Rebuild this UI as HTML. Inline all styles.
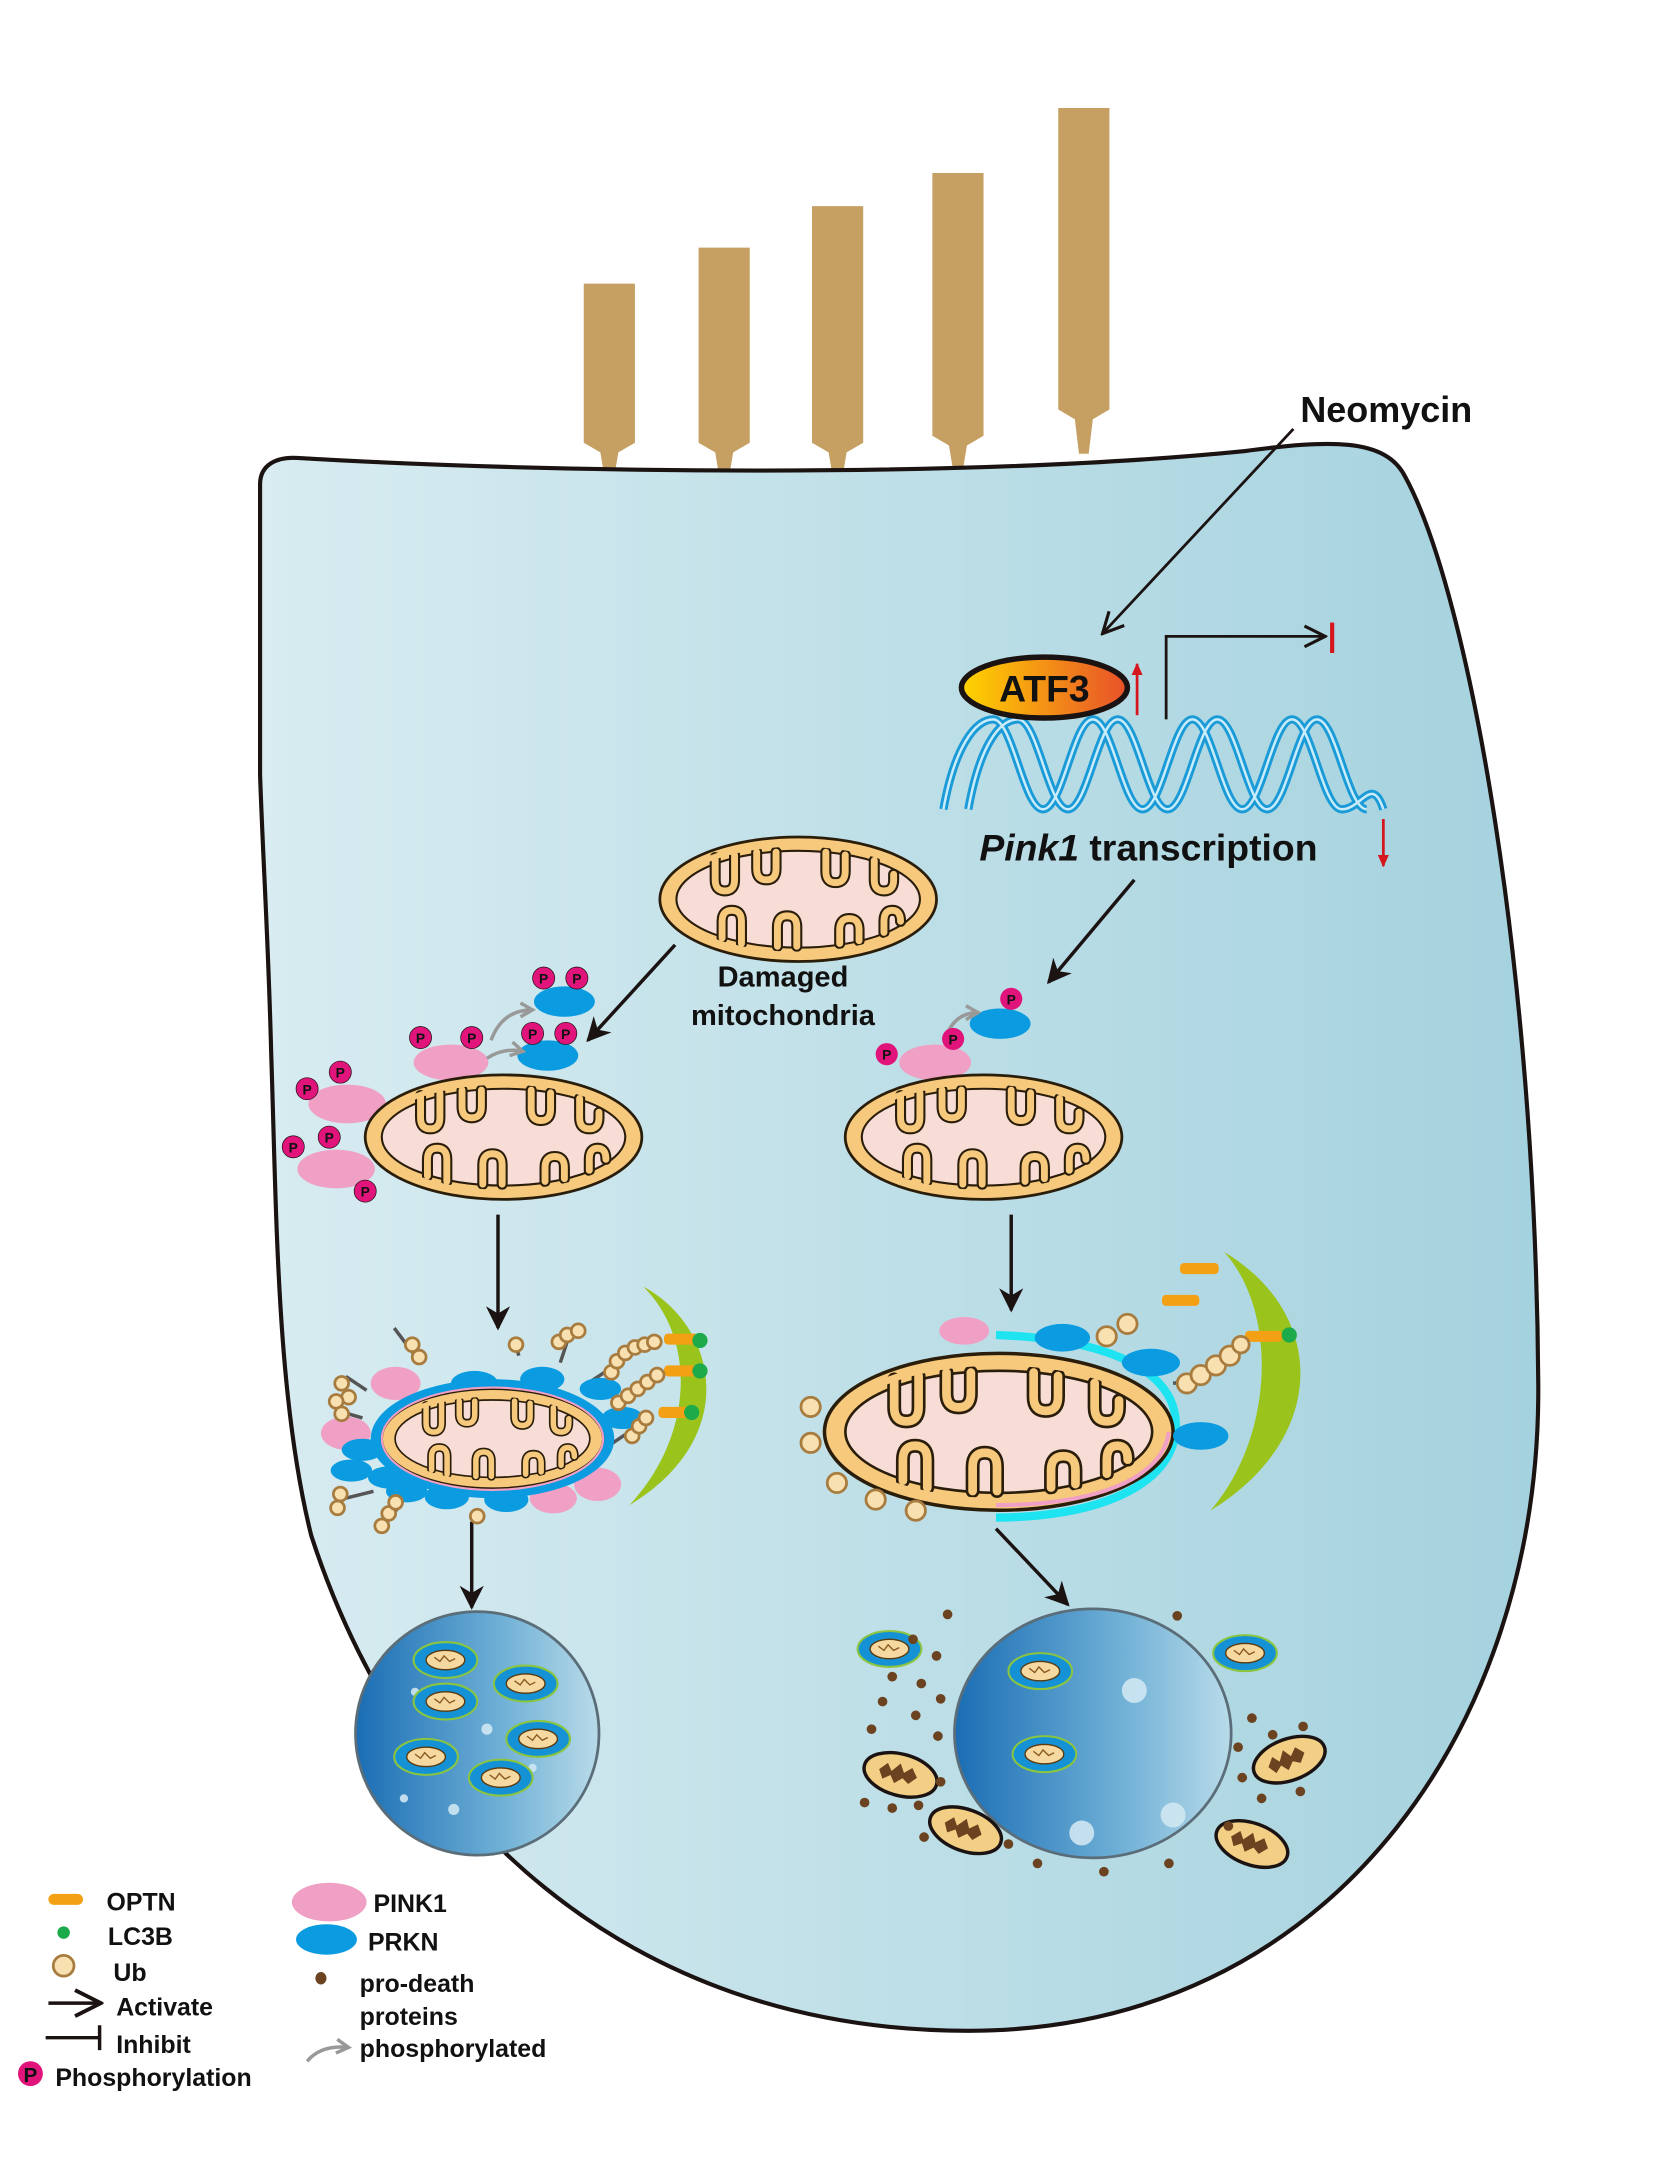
<!DOCTYPE html>
<html><head><meta charset="utf-8"><style>
html,body{margin:0;padding:0;background:#fff;}
svg{display:block;}
text{font-family:"Liberation Sans",Arial,sans-serif;font-weight:bold;fill:#111;}
</style></head><body>
<svg width="1660" height="2183" viewBox="0 0 1200 1578" xmlns="http://www.w3.org/2000/svg">
<defs>
<linearGradient id="cell" x1="0" x2="1" y1="0" y2="0"><stop offset="0" stop-color="#d8ecf1"/><stop offset="1" stop-color="#a4d2de"/></linearGradient>
<linearGradient id="atf" x1="0" x2="1"><stop offset="0" stop-color="#ffd400"/><stop offset="1" stop-color="#e8502a"/></linearGradient>
<linearGradient id="lys" x1="0" x2="1"><stop offset="0" stop-color="#1a6db4"/><stop offset="0.6" stop-color="#6fb0d6"/><stop offset="1" stop-color="#b9dbe9"/></linearGradient>
<marker id="ah" viewBox="0 0 10 10" refX="9" refY="5" markerWidth="7" markerHeight="7" orient="auto"><path d="M0,0 L10,5 L0,10 L3,5 Z" fill="#1b1212"/></marker>
<marker id="oa" viewBox="0 0 12 12" refX="11" refY="6" markerWidth="9" markerHeight="9" orient="auto"><path d="M1,1 L11,6 L1,11" fill="none" stroke="#1b1212" stroke-width="1.5"/></marker>
<marker id="ga" viewBox="0 0 10 10" refX="8" refY="5" markerWidth="5" markerHeight="5" orient="auto"><path d="M1,1 L8,5 L1,9" fill="none" stroke="#999" stroke-width="2"/></marker>
<marker id="ra" viewBox="0 0 10 10" refX="8" refY="5" markerWidth="5" markerHeight="5" orient="auto"><path d="M0,1 L9,5 L0,9 Z" fill="#d6161d"/></marker>
<symbol id="mito" viewBox="-105 -50 210 100">
<ellipse cx="0" cy="0" rx="100" ry="45" fill="#f6c97c" stroke="#2a1d0a" stroke-width="2"/>
<ellipse cx="0" cy="0" rx="88" ry="35" fill="#f7ddd6" stroke="#2a1d0a" stroke-width="1.5"/>
<g fill="none" stroke="#2a1d0a" stroke-width="8" stroke-linecap="round">
<path d="M-60,-30 v16 q0,8 7,8 q7,0 7,-8 v-18 M-30,-34 v12 q0,8 7,8 q7,0 7,-8 v-12 M20,-34 v14 q0,8 7,8 q7,0 7,-8 v-12 M55,-28 v14 q0,8 7,8 q7,0 7,-8 v-4 M-55,28 v-12 q0,-8 7,-8 q7,0 7,8 v16 M-15,34 v-14 q0,-8 7,-8 q7,0 7,8 v14 M30,32 v-10 q0,-8 7,-8 q7,0 7,8 v8 M62,24 v-8 q0,-8 6,-8 q6,0 6,8"/>
</g>
<g fill="none" stroke="#f6c97c" stroke-width="5" stroke-linecap="round">
<path d="M-60,-30 v16 q0,8 7,8 q7,0 7,-8 v-18 M-30,-34 v12 q0,8 7,8 q7,0 7,-8 v-12 M20,-34 v14 q0,8 7,8 q7,0 7,-8 v-12 M55,-28 v14 q0,8 7,8 q7,0 7,-8 v-4 M-55,28 v-12 q0,-8 7,-8 q7,0 7,8 v16 M-15,34 v-14 q0,-8 7,-8 q7,0 7,8 v14 M30,32 v-10 q0,-8 7,-8 q7,0 7,8 v8 M62,24 v-8 q0,-8 6,-8 q6,0 6,8"/>
</g>
<ellipse cx="0" cy="0" rx="94" ry="40" fill="none" stroke="#f6c97c" stroke-width="4"/>
</symbol>
<symbol id="small" viewBox="-25 -15 50 30">
<ellipse rx="23" ry="13" fill="#1592d6" stroke="#8bc53f" stroke-width="1.5"/>
<ellipse rx="14" ry="7" fill="#f6d9a0" stroke="#5a3a10" stroke-width="1"/>
<path d="M-8,-2 l4,3 l3,-4 l4,4 l4,-2" fill="none" stroke="#8a5a20" stroke-width="1"/>
</symbol>
<symbol id="dead" viewBox="-30 -18 60 36">
<ellipse rx="27" ry="15" fill="#f2cf85" stroke="#1b1212" stroke-width="2.5"/>
<path d="M-16,0 l5,-6 l4,5 l5,-7 l4,6 l5,-5 l5,6 l-5,6 l-5,-3 l-5,5 l-4,-5 l-5,4 Z" fill="#6b4320"/>
</symbol>
<path id="s1" d="M682,585 C690,540 705,520 718,520 C732,520 740,585 754,585 C768,585 776,520 790,520 C804,520 812,585 826,585 C840,585 848,520 862,520 C876,520 884,585 898,585 C912,585 920,520 934,520 C948,520 956,585 970,585 C984,585 992,560 1000,585"/>
<path id="s2" d="M700,585 C708,540 722,520 736,520 C750,520 758,585 772,585 C786,585 794,520 808,520 C822,520 830,585 844,585 C858,585 866,520 880,520 C894,520 902,585 916,585 C930,585 938,520 952,520 C966,520 974,585 988,585"/>
</defs>

<!-- stereocilia -->
<g fill="#c6a063">
<path d="M422,205 h37 v115 l-12,7 l-3,18 h-7 l-3,-18 l-12,-7 Z"/>
<path d="M505,179 h37 v141 l-12,7 l-3,18 h-7 l-3,-18 l-12,-7 Z"/>
<path d="M587,149 h37 v171 l-12,7 l-3,18 h-7 l-3,-18 l-12,-7 Z"/>
<path d="M674,125 h37 v190 l-12,7 l-3,18 h-7 l-3,-18 l-12,-7 Z"/>
<path d="M765,78 h37 v218 l-12,7 l-3,25 h-7 l-3,-25 l-12,-7 Z"/>
</g>

<!-- cell -->
<path d="M188,350 C188,336 200,330 215,331 C400,342 700,346 900,326 C960,318 1002,316 1016,345 C1062,430 1110,700 1112,1000 C1114,1250 960,1468 700,1468 C450,1468 290,1310 225,1110 C200,1010 200,880 196,760 C194,680 190,620 188,560 Z" fill="url(#cell)" stroke="#1b1212" stroke-width="3"/>

<!-- Neomycin -->
<text x="940" y="305" font-size="26">Neomycin</text>
<line x1="935" y1="310" x2="797" y2="458" stroke="#1b1212" stroke-width="2" marker-end="url(#oa)"/>

<!-- DNA -->
<g fill="none">
<use href="#s1" stroke="#1a9ad6" stroke-width="6"/>
<use href="#s2" stroke="#1a9ad6" stroke-width="6"/>
<use href="#s1" stroke="#c8ecfa" stroke-width="1.8"/>
<use href="#s2" stroke="#c8ecfa" stroke-width="1.8"/>
</g>
<!-- transcription arrow -->
<path d="M843,520 V460 H958" fill="none" stroke="#1b1212" stroke-width="2" marker-end="url(#oa)"/>
<line x1="963" y1="450" x2="963" y2="472" stroke="#d6161d" stroke-width="3"/>
<!-- ATF3 -->
<ellipse cx="755" cy="497" rx="60" ry="22" fill="url(#atf)" stroke="#1b1212" stroke-width="4"/>
<text x="755" y="507" font-size="27" text-anchor="middle">ATF3</text>
<line x1="822" y1="517" x2="822" y2="480" stroke="#d6161d" stroke-width="2" marker-end="url(#ra)"/>
<text x="708" y="622" font-size="27"><tspan font-style="italic">Pink1</tspan> transcription</text>
<line x1="1000" y1="592" x2="1000" y2="626" stroke="#d6161d" stroke-width="2" marker-end="url(#ra)"/>

<!-- arrows -->
<line x1="820" y1="636" x2="758" y2="710" stroke="#1b1212" stroke-width="2.5" marker-end="url(#ah)"/>
<line x1="488" y1="683" x2="425" y2="752" stroke="#1b1212" stroke-width="2.5" marker-end="url(#ah)"/>
<line x1="360" y1="878" x2="360" y2="960" stroke="#1b1212" stroke-width="2.5" marker-end="url(#ah)"/>
<line x1="731" y1="878" x2="731" y2="947" stroke="#1b1212" stroke-width="2.5" marker-end="url(#ah)"/>
<line x1="341" y1="1100" x2="341" y2="1162" stroke="#1b1212" stroke-width="2.5" marker-end="url(#ah)"/>
<line x1="720" y1="1105" x2="772" y2="1160" stroke="#1b1212" stroke-width="2.5" marker-end="url(#ah)"/>

<!-- damaged mito top -->
<use href="#mito" x="472" y="600" width="210" height="100"/>
<text x="566" y="713" font-size="21" text-anchor="middle">Damaged</text>
<text x="566" y="741" font-size="21" text-anchor="middle">mitochondria</text>

<!-- left mito + PINK1/PRKN -->
<g fill="#f0a0c4">
<ellipse cx="251" cy="798" rx="28" ry="14"/><ellipse cx="243" cy="845" rx="28" ry="14"/><ellipse cx="326" cy="768" rx="27" ry="13"/>
</g>
<use href="#mito" x="259" y="772" width="210" height="100"/>
<g fill="#0a9be0"><ellipse cx="408" cy="724" rx="22" ry="11"/><ellipse cx="396" cy="763" rx="22" ry="11"/></g>
<path d="M355,752 q8,-22 30,-22" fill="none" stroke="#999" stroke-width="2.5" marker-end="url(#ga)"/>
<path d="M352,765 q12,-8 26,-5" fill="none" stroke="#999" stroke-width="2.5" marker-end="url(#ga)"/>
<g fill="#e0147a" stroke="#1b1212" stroke-width="0.5">
<circle cx="222" cy="787" r="8"/><circle cx="246" cy="775" r="8"/><circle cx="212" cy="829" r="8"/><circle cx="238" cy="822" r="8"/><circle cx="264" cy="861" r="8"/><circle cx="304" cy="750" r="8"/><circle cx="341" cy="750" r="8"/><circle cx="393" cy="707" r="8"/><circle cx="417" cy="707" r="8"/><circle cx="385" cy="747" r="8"/><circle cx="409" cy="747" r="8"/>
</g>
<g font-size="10" text-anchor="middle">
<text x="222" y="791">P</text><text x="246" y="779">P</text><text x="212" y="833">P</text><text x="238" y="826">P</text><text x="264" y="865">P</text><text x="304" y="754">P</text><text x="341" y="754">P</text><text x="393" y="711">P</text><text x="417" y="711">P</text><text x="385" y="751">P</text><text x="409" y="751">P</text>
</g>

<!-- right mito -->
<ellipse cx="676" cy="768" rx="26" ry="13" fill="#f0a0c4"/>
<use href="#mito" x="606" y="772" width="210" height="100"/>
<ellipse cx="723" cy="740" rx="22" ry="11" fill="#0a9be0"/>
<path d="M683,752 q6,-20 24,-20" fill="none" stroke="#999" stroke-width="2.5" marker-end="url(#ga)"/>
<g fill="#e0147a"><circle cx="641" cy="762" r="8"/><circle cx="689" cy="751" r="8"/><circle cx="731" cy="722" r="8"/></g>
<g font-size="10" text-anchor="middle"><text x="641" y="766">P</text><text x="689" y="755">P</text><text x="731" y="726">P</text></g>

<!-- left mitophagy -->
<g stroke="#555" stroke-width="2.5">
<line x1="300" y1="980" x2="285" y2="960"/><line x1="265" y1="1005" x2="250" y2="995"/><line x1="262" y1="1025" x2="245" y2="1020"/><line x1="270" y1="1078" x2="250" y2="1083"/><line x1="290" y1="1087" x2="280" y2="1100"/><line x1="375" y1="980" x2="372" y2="968"/><line x1="405" y1="985" x2="410" y2="970"/><line x1="428" y1="998" x2="440" y2="990"/><line x1="433" y1="1010" x2="445" y2="1007"/><line x1="440" y1="1045" x2="455" y2="1035"/><line x1="343" y1="1092" x2="345" y2="1100"/>
</g>
<g fill="#f0a0c4"><ellipse cx="286" cy="1000" rx="18" ry="12"/><ellipse cx="250" cy="1036" rx="18" ry="12"/><ellipse cx="432" cy="1073" rx="17" ry="12"/><ellipse cx="400" cy="1083" rx="17" ry="11"/></g>
<g fill="#0a9be0">
<ellipse cx="343" cy="1000" rx="17" ry="9"/><ellipse cx="392" cy="997" rx="16" ry="9"/><ellipse cx="434" cy="1004" rx="15" ry="8"/><ellipse cx="450" cy="1025" rx="15" ry="8"/><ellipse cx="262" cy="1048" rx="15" ry="8"/><ellipse cx="254" cy="1063" rx="15" ry="8"/><ellipse cx="281" cy="1068" rx="15" ry="8"/><ellipse cx="294" cy="1078" rx="15" ry="8"/><ellipse cx="323" cy="1082" rx="16" ry="9"/><ellipse cx="366" cy="1084" rx="16" ry="9"/>
</g>
<ellipse cx="356" cy="1040" rx="88" ry="43" fill="#0a9be0"/>
<use href="#mito" x="272" y="1000" width="168" height="80"/>
<ellipse cx="356" cy="1040" rx="80" ry="37" fill="none" stroke="#f0a0c4" stroke-width="1.5"/>
<path d="M465,930 C520,960 535,1040 455,1088 C500,1040 505,970 465,930 Z" fill="#9ac31c"/>
<g fill="#f3a014"><rect x="480" y="964" width="25" height="8" rx="3"/><rect x="480" y="987" width="25" height="8" rx="3"/><rect x="476" y="1017" width="25" height="8" rx="3"/></g>
<g fill="#1daa4a"><circle cx="506" cy="969" r="5.5"/><circle cx="506" cy="991" r="5.5"/><circle cx="500" cy="1021" r="5.5"/></g>
<g fill="#f8e0b0" stroke="#a87c3e" stroke-width="2">
<circle cx="298" cy="972" r="5"/><circle cx="303" cy="981" r="5"/><circle cx="247" cy="1000" r="5"/><circle cx="252" cy="1010" r="5"/><circle cx="243" cy="1013" r="5"/><circle cx="247" cy="1022" r="5"/><circle cx="246" cy="1080" r="5"/><circle cx="244" cy="1090" r="5"/><circle cx="276" cy="1103" r="5"/><circle cx="281" cy="1094" r="5"/><circle cx="286" cy="1086" r="5"/><circle cx="345" cy="1096" r="5"/><circle cx="373" cy="972" r="5"/>
<circle cx="404" cy="970" r="5"/><circle cx="410" cy="965" r="5"/><circle cx="418" cy="962" r="5"/>
<circle cx="442" cy="992" r="5"/><circle cx="446" cy="984" r="5"/><circle cx="452" cy="978" r="5"/><circle cx="459" cy="974" r="5"/><circle cx="466" cy="972" r="5"/><circle cx="473" cy="970" r="5"/>
<circle cx="447" cy="1014" r="5"/><circle cx="454" cy="1009" r="5"/><circle cx="461" cy="1004" r="5"/><circle cx="468" cy="999" r="5"/><circle cx="475" cy="994" r="5"/>
<circle cx="457" cy="1038" r="5"/><circle cx="462" cy="1031" r="5"/><circle cx="467" cy="1025" r="5"/>
</g>

<!-- right mitophagy -->
<ellipse cx="697" cy="962" rx="18" ry="10" fill="#f0a0c4"/>
<path d="M720,965 C800,968 850,990 850,1030 C850,1075 790,1097 720,1097" fill="none" stroke="#1ee3f0" stroke-width="6"/>
<use href="#mito" x="587" y="972" width="270" height="126"/>
<path d="M720,1088 C790,1088 840,1070 845,1035" fill="none" stroke="#f0a0c4" stroke-width="3"/>
<g fill="#0a9be0"><ellipse cx="768" cy="967" rx="20" ry="10"/><ellipse cx="832" cy="985" rx="21" ry="10"/><ellipse cx="868" cy="1038" rx="20" ry="10"/></g>
<path d="M885,905 C960,950 960,1040 875,1092 C920,1040 925,950 885,905 Z" fill="#9ac31c"/>
<g fill="#f3a014"><rect x="853" y="913" width="28" height="8" rx="3"/><rect x="840" y="936" width="27" height="8" rx="3"/><rect x="900" y="962" width="27" height="8" rx="3"/></g>
<circle cx="932" cy="965" r="5.5" fill="#1daa4a"/>
<line x1="848" y1="1000" x2="860" y2="998" stroke="#555" stroke-width="2.5"/>
<g fill="#f8e0b0" stroke="#a87c3e" stroke-width="2">
<circle cx="586" cy="1017" r="7"/><circle cx="586" cy="1043" r="7"/><circle cx="605" cy="1072" r="7"/><circle cx="633" cy="1084" r="7"/><circle cx="662" cy="1092" r="7"/>
<circle cx="800" cy="966" r="7"/><circle cx="815" cy="957" r="7"/>
<circle cx="858" cy="1000" r="7"/><circle cx="868" cy="994" r="7"/><circle cx="879" cy="987" r="7"/><circle cx="889" cy="980" r="7"/><circle cx="897" cy="972" r="6"/>
</g>

<!-- lysosomes -->
<circle cx="345" cy="1253" r="88" fill="url(#lys)" stroke="#5a6d78" stroke-width="2"/>
<ellipse cx="790" cy="1253" rx="100" ry="90" fill="url(#lys)" stroke="#5a6d78" stroke-width="2"/>
<g fill="#cfe7f2" opacity="0.9"><circle cx="300" cy="1223" r="3"/><circle cx="352" cy="1250" r="4"/><circle cx="385" cy="1278" r="3"/><circle cx="292" cy="1300" r="3"/><circle cx="328" cy="1308" r="4"/><circle cx="820" cy="1222" r="9"/><circle cx="782" cy="1325" r="9"/><circle cx="848" cy="1312" r="9"/></g>
<use href="#small" x="297" y="1185" width="50" height="30"/>
<use href="#small" x="355" y="1202" width="50" height="30"/>
<use href="#small" x="297" y="1215" width="50" height="30"/>
<use href="#small" x="364" y="1242" width="50" height="30"/>
<use href="#small" x="283" y="1255" width="50" height="30"/>
<use href="#small" x="337" y="1270" width="50" height="30"/>
<use href="#small" x="727" y="1193" width="50" height="30"/>
<use href="#small" x="730" y="1253" width="50" height="30"/>
<use href="#small" x="618" y="1177" width="50" height="30"/>
<use href="#small" x="875" y="1180" width="50" height="30"/>
<use href="#dead" x="621" y="1265" width="60" height="36" transform="rotate(15 651 1283)"/>
<use href="#dead" x="668" y="1305" width="60" height="36" transform="rotate(20 698 1323)"/>
<use href="#dead" x="902" y="1254" width="60" height="36" transform="rotate(-20 932 1272)"/>
<use href="#dead" x="875" y="1315" width="60" height="36" transform="rotate(20 905 1333)"/>
<g fill="#6b4320">
<circle cx="685" cy="1167" r="3.5"/><circle cx="851" cy="1168" r="3.5"/><circle cx="660" cy="1185" r="3.5"/><circle cx="677" cy="1197" r="3.5"/><circle cx="645" cy="1212" r="3.5"/><circle cx="666" cy="1217" r="3.5"/><circle cx="680" cy="1228" r="3.5"/><circle cx="638" cy="1230" r="3.5"/><circle cx="662" cy="1240" r="3.5"/><circle cx="678" cy="1255" r="3.5"/><circle cx="630" cy="1250" r="3.5"/><circle cx="625" cy="1303" r="3.5"/><circle cx="645" cy="1307" r="3.5"/><circle cx="664" cy="1305" r="3.5"/><circle cx="680" cy="1288" r="3.5"/><circle cx="668" cy="1328" r="3.5"/><circle cx="729" cy="1333" r="3.5"/><circle cx="750" cy="1347" r="3.5"/><circle cx="798" cy="1353" r="3.5"/><circle cx="845" cy="1347" r="3.5"/><circle cx="905" cy="1242" r="3.5"/><circle cx="920" cy="1254" r="3.5"/><circle cx="942" cy="1248" r="3.5"/><circle cx="895" cy="1263" r="3.5"/><circle cx="898" cy="1285" r="3.5"/><circle cx="940" cy="1295" r="3.5"/><circle cx="912" cy="1300" r="3.5"/><circle cx="888" cy="1320" r="3.5"/>
</g>

<!-- legend -->
<g font-size="18">
<rect x="35" y="1369" width="25" height="8" rx="4" fill="#f3a014"/><text x="77" y="1381">OPTN</text>
<circle cx="46" cy="1397" r="4.5" fill="#1daa4a"/><text x="78" y="1406">LC3B</text>
<circle cx="46" cy="1421" r="7.5" fill="#f8e0b0" stroke="#a87c3e" stroke-width="2"/><text x="82" y="1432">Ub</text>
<line x1="35" y1="1448" x2="73" y2="1448" stroke="#1b1212" stroke-width="2.5" marker-end="url(#oa)"/><text x="84" y="1457">Activate</text>
<line x1="33" y1="1473" x2="72" y2="1473" stroke="#1b1212" stroke-width="2.5"/><line x1="72" y1="1464" x2="72" y2="1482" stroke="#1b1212" stroke-width="2.5"/><text x="84" y="1484">Inhibit</text>
<circle cx="22" cy="1499" r="9" fill="#e0147a"/><text x="22" y="1505" font-size="15" text-anchor="middle">P</text><text x="40" y="1508">Phosphorylation</text>
<ellipse cx="238" cy="1375" rx="27" ry="14" fill="#f0a0c4"/><text x="270" y="1382">PINK1</text>
<ellipse cx="236" cy="1402" rx="22" ry="11" fill="#0a9be0"/><text x="266" y="1410">PRKN</text>
<ellipse cx="232" cy="1430" rx="4" ry="4.5" fill="#6b4320"/><text x="260" y="1440">pro-death</text>
<text x="260" y="1464">proteins</text>
<path d="M222,1490 q10,-12 30,-10" fill="none" stroke="#999" stroke-width="2.5" marker-end="url(#ga)"/><text x="260" y="1487">phosphorylated</text>
</g>
</svg>
</body></html>
